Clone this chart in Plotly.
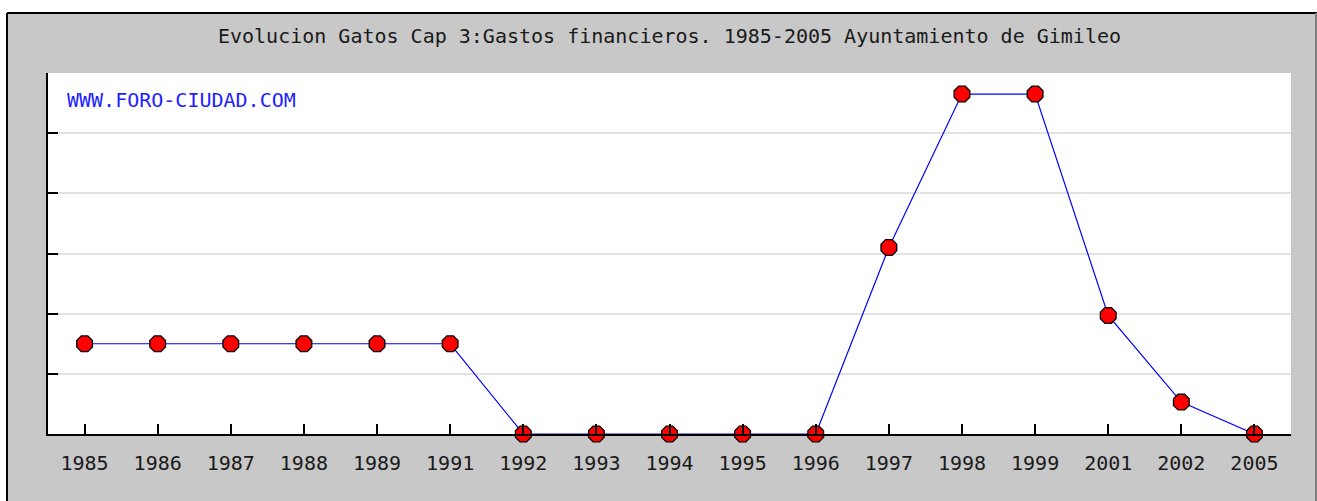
import plotly.graph_objects as go

years = ["1985", "1986", "1987", "1988", "1989", "1991", "1992", "1993", "1994",
         "1995", "1996", "1997", "1998", "1999", "2001", "2002", "2005"]
values = [1.5, 1.5, 1.5, 1.5, 1.5, 1.5, 0, 0, 0, 0, 0, 3.1, 5.65, 5.65, 1.97, 0.53, 0]
y_ticks = [0, 1, 2, 3, 4, 5, 6]

title_text = "Evolucion Gatos Cap 3:Gastos financieros. 1985-2005 Ayuntamiento de Gimileo"
watermark = "WWW.FORO-CIUDAD.COM"

W, H = 1317, 501
ML, MR, MT, MB = 48, 26, 73, 67
PW, PH = W - ML - MR, H - MT - MB


def px_x(x):
    return (x - ML) / PW


def px_y(y):
    return (H - MB - y) / PH


fig = go.Figure()
fig.add_trace(go.Scatter(
    x=years, y=values, mode="lines+markers",
    line=dict(color="#0000ff", width=1.2),
    marker=dict(symbol="octagon", size=17, color="#ff0000",
                line=dict(color="#000000", width=1.3)),
    cliponaxis=False, hoverinfo="x+y", showlegend=False,
))

mono = "DejaVu Sans Mono"
fig.update_layout(
    width=W, height=H,
    margin=dict(l=ML, r=MR, t=MT, b=MB),
    paper_bgcolor="#ffffff",
    plot_bgcolor="#ffffff",
    title=dict(text=title_text, font=dict(family=mono, size=20, color="#1a1a1a"),
               x=0.5, xref="paper", xanchor="center",
               y=1 - 36 / H, yref="container", yanchor="middle"),
    xaxis=dict(type="category", range=[-0.5, len(years) - 0.5],
               showgrid=False, showline=True, linecolor="#000000", linewidth=2,
               ticks="inside", ticklen=10, tickwidth=1.5, tickcolor="#000000",
               tickfont=dict(family=mono, size=20, color="#1a1a1a"),
               ticklabelstandoff=10, layer="above traces", zeroline=False, fixedrange=True),
    yaxis=dict(range=[0, 6], tickvals=y_ticks, showticklabels=False,
               showgrid=True, gridcolor="#e2e2e2", gridwidth=1.5,
               showline=True, linecolor="#000000", linewidth=2,
               ticks="inside", ticklen=10, tickwidth=1.5, tickcolor="#000000",
               zeroline=False, layer="above traces", fixedrange=True),
    annotations=[dict(text=watermark, xref="paper", yref="paper",
                      x=px_x(65), y=px_y(100),
                      xanchor="left", yanchor="middle", showarrow=False,
                      font=dict(family=mono, size=20, color="#1f1fff"))],
    shapes=[
        dict(type="rect", xref="paper", yref="paper", layer="below",
             x0=px_x(7), x1=px_x(W), y0=px_y(13), y1=px_y(H),
             fillcolor="#c8c8c8", line=dict(width=0)),
        dict(type="rect", xref="paper", yref="paper", layer="below",
             x0=0, x1=1, y0=0, y1=1,
             fillcolor="#ffffff", line=dict(width=0)),
        dict(type="line", xref="paper", yref="paper", layer="above",
             x0=px_x(7), x1=px_x(W), y0=px_y(13), y1=px_y(13),
             line=dict(color="#000000", width=2)),
        dict(type="line", xref="paper", yref="paper", layer="above",
             x0=px_x(7), x1=px_x(7), y0=px_y(13), y1=px_y(H),
             line=dict(color="#000000", width=2)),
        dict(type="line", xref="paper", yref="paper", layer="above",
             x0=px_x(1316), x1=px_x(1316), y0=px_y(13), y1=px_y(H),
             line=dict(color="#808080", width=2)),
    ],
)

fig.write_html("out.html", config={"displayModeBar": False},
               post_script="document.body.style.margin='0px';document.body.style.overflow='hidden';")
